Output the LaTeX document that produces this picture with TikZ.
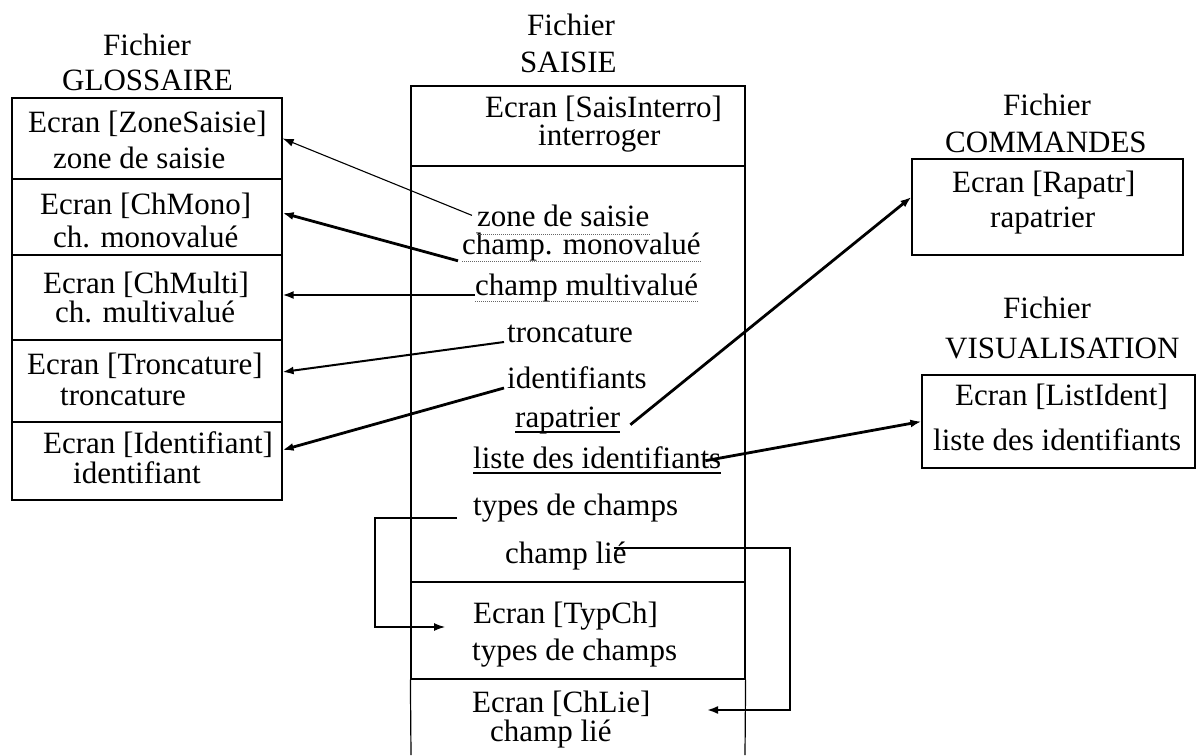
\documentclass[tikz,border=0pt]{standalone}
\usepackage{fontspec}
\setmainfont{Liberation Serif}
\usetikzlibrary{arrows.meta}
\begin{document}
\begin{tikzpicture}[x=1pt,y=-1pt,
  txt/.style={anchor=base west, inner sep=0pt, font=\fontsize{31}{36}\selectfont},
  box/.style={draw, line width=1.2pt, inner sep=0pt},
  link/.style={-{Latex[length=11pt,width=8pt]}},
  thinlink/.style={link, line width=1.1pt},
  midlink/.style={link, line width=2pt},
  thicklink/.style={link, line width=2.8pt},
  dotline/.style={densely dotted, line width=1pt, black!60},
]
\useasboundingbox (0,0) rectangle (1199,755);
\fill[white] (0,0) rectangle (1199,755);

% ---- Fichier GLOSSAIRE ----
\node[txt] (glt1) at (103,55) {Fichier};
\node[txt] (glt2) at (62,90) {GLOSSAIRE};
\node[box, minimum width=270pt, minimum height=81pt] (g1) at (147,138.5) {};
\node[box, minimum width=270pt, minimum height=76pt] (g2) at (147,217) {};
\node[box, minimum width=270pt, minimum height=85pt] (g3) at (147,297.5) {};
\node[box, minimum width=270pt, minimum height=82pt] (g4) at (147,381) {};
\node[box, minimum width=270pt, minimum height=78pt] (g5) at (147,461) {};
\node[txt] (g1a) at (28,132) {Ecran [ZoneSaisie]};
\node[txt] (g1b) at (53,168) {zone de saisie};
\node[txt] (g2a) at (40,214) {Ecran [ChMono]};
\node[txt] (g2b) at (53,247) {ch. monovalué};
\node[txt] (g3a) at (43,293) {Ecran [ChMulti]};
\node[txt] (g3b) at (55,322) {ch. multivalué};
\node[txt] (g4a) at (27,374) {Ecran [Troncature]};
\node[txt] (g4b) at (60,405) {troncature};
\node[txt] (g5a) at (43,453) {Ecran [Identifiant]};
\node[txt] (g5b) at (73,483) {identifiant};

% ---- Fichier SAISIE ----
\node[txt] (sat1) at (527,35) {Fichier};
\node[txt] (sat2) at (520,72) {SAISIE};
\node[box, minimum width=334pt, minimum height=80pt] (shead) at (578,126) {};
\node[box, minimum width=334pt, minimum height=416pt] (sbody) at (578,374) {};
\node[box, minimum width=334pt, minimum height=97pt] (styp) at (578,630.5) {};
\draw[line width=1.2pt] (styp.south west) -- (411,755) (styp.south east) -- (745,755);
\node[txt] (sha) at (485,117) {Ecran [SaisInterro]};
\node[txt] (shb) at (538,145) {interroger};
\node[txt] (zs) at (477,226) {zone de saisie};
\node[txt] (cm) at (462,254) {champ. monovalué};
\node[txt] (cmu) at (475,295) {champ multivalué};
\node[txt] (tr) at (507,342) {troncature};
\node[txt] (id) at (507,388) {identifiants};
\node[txt] (rap) at (515,427) {rapatrier};
\node[txt] (lid) at (473,468) {liste des identifiants};
\node[txt] (tdc) at (473,515) {types de champs};
\node[txt] (cl) at (505,563) {champ lié};
\node[txt] (sta) at (473,623) {Ecran [TypCh]};
\node[txt] (stb) at (472,660) {types de champs};
\node[txt] (sla) at (472,712) {Ecran [ChLie]};
\node[txt] (slb) at (490,741) {champ lié};
\coordinate (typin) at (445,627);
\coordinate (liein) at (707,710);

% underlines
\draw[dotline] ([yshift=-8pt]zs.base west) -- ([yshift=-8pt]zs.base east);
\draw[dotline] ([yshift=-7pt]cm.base west) -- ([yshift=-7pt]cm.base east);
\draw[dotline] ([yshift=-6pt]cmu.base west) -- ([yshift=-6pt]cmu.base east);
\draw[line width=1.1pt] ([yshift=-5pt]rap.base west) -- ([yshift=-5pt]rap.base east);
\draw[line width=1.1pt] ([yshift=-5pt]lid.base west) -- ([yshift=-5pt]lid.base east);

% ---- Fichier COMMANDES ----
\node[txt] (cot1) at (1003,115) {Fichier};
\node[txt] (cot2) at (945,152) {COMMANDES};
\node[box, minimum width=271pt, minimum height=96pt] (rapbox) at (1047.5,207) {};
\node[txt] (ra) at (952,192) {Ecran [Rapatr]};
\node[txt] (rb) at (990,227) {rapatrier};

% ---- Fichier VISUALISATION ----
\node[txt] (vit1) at (1003,318) {Fichier};
\node[txt] (vit2) at (945,358) {VISUALISATION};
\node[box, minimum width=273pt, minimum height=93pt] (listbox) at (1058.5,421.5) {};
\node[txt] (la) at (955,405) {Ecran [ListIdent]};
\node[txt] (lb) at (933,450) {liste des identifiants};

% ---- links ----
\draw[thinlink] ([xshift=-5pt]zs.west) -- (g1.east);
\draw[thicklink] ([xshift=-4pt]cm.south west) -- ([yshift=4pt]g2.east);
\draw[midlink] (cmu.base west) -- ([yshift=2.5pt]g3.east);
\draw[midlink] ([xshift=-3pt]tr.base west) -- ([yshift=9pt]g4.east);
\draw[thicklink] ([xshift=-3pt]id.base west) -- ([yshift=11pt]g5.east);
\draw[thicklink] ([xshift=10pt]rap.mid east) -- ([yshift=10pt]rapbox.west);
\draw[thicklink] ([xshift=-16pt,yshift=5pt]lid.mid east) -- (listbox.west);
\draw[thinlink] ([xshift=-16pt,yshift=-3pt]tdc.base west) -- ++(-82,0) |- (typin);
\draw[midlink] ([xshift=-13pt,yshift=-7pt]cl.north east) -- ++(176,0) |- (liein);
\end{tikzpicture}
\end{document}
